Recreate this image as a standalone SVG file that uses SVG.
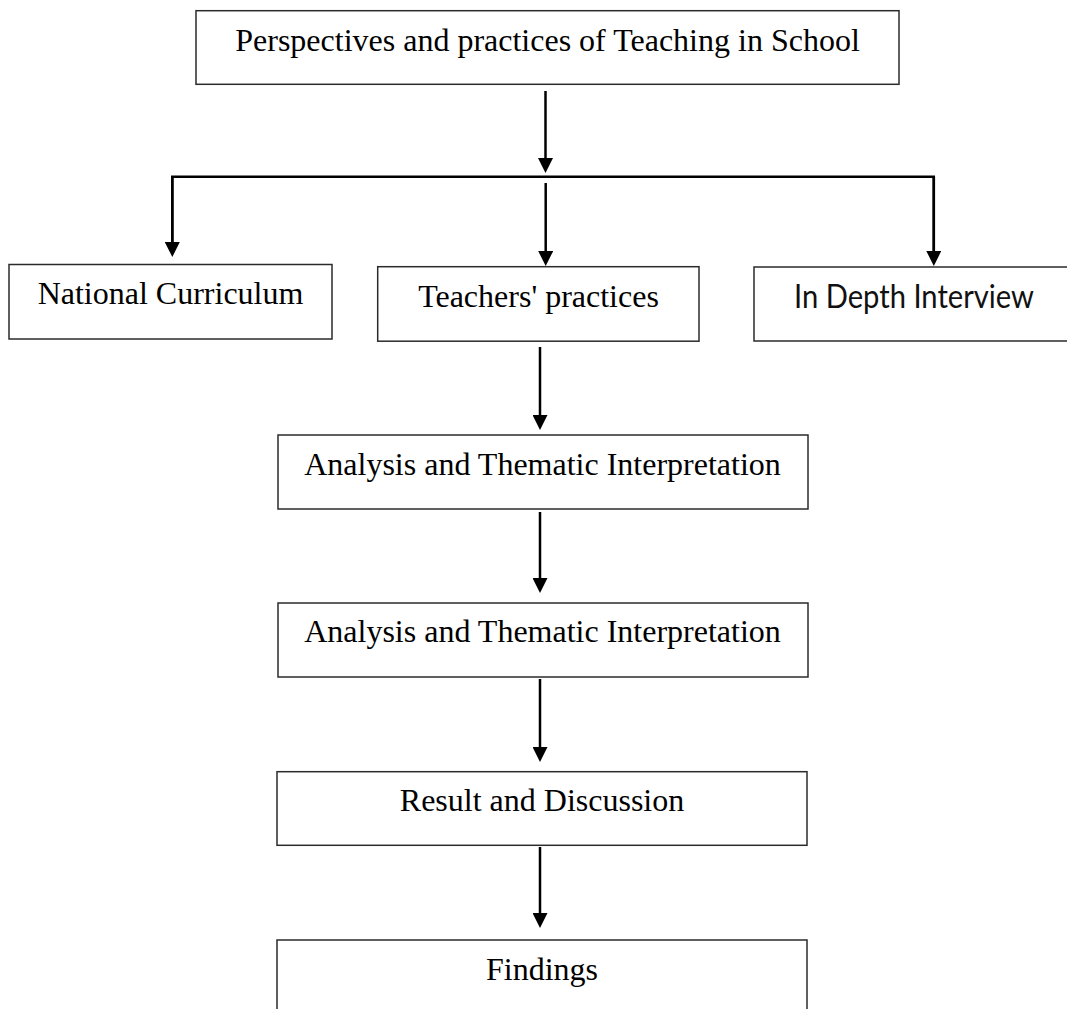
<svg xmlns="http://www.w3.org/2000/svg" width="1067" height="1009" viewBox="0 0 1067 1009">
  <style>
    .box { fill: #ffffff; stroke: #2b2b2b; stroke-width: 1.5; }
    .lbl { font-family: "Liberation Serif", "Times New Roman", serif; font-size: 32px; fill: #000000; text-anchor: middle; }
    .sans { font-family: Lato, "Open Sans", "Liberation Sans", sans-serif; font-size: 32px; fill: #111111; text-anchor: middle; }
    .conn { fill: none; stroke: #000000; stroke-width: 2.5; }
  </style>
  <defs>
    <marker id="arrow" viewBox="0 0 15 15" refX="5" refY="7.5" markerWidth="15" markerHeight="15" markerUnits="userSpaceOnUse" orient="auto">
      <path d="M0,0 L15,7.5 L0,15 z" fill="#000000"/>
    </marker>
  </defs>
  <rect width="1067" height="1009" fill="#ffffff"/>

  <g id="connectors">
    <line class="conn" x1="545.5" y1="91" x2="545.5" y2="163" marker-end="url(#arrow)"/>
    <path class="conn" d="M172.3,247 V176.8 H933.8 V256"/>
    <line class="conn" x1="172.3" y1="176.8" x2="172.3" y2="247" marker-end="url(#arrow)"/>
    <line class="conn" x1="933.8" y1="176.8" x2="933.8" y2="256" marker-end="url(#arrow)"/>
    <line class="conn" x1="545.7" y1="183" x2="545.7" y2="256" marker-end="url(#arrow)"/>
    <line class="conn" x1="540" y1="347" x2="540" y2="420" marker-end="url(#arrow)"/>
    <line class="conn" x1="540" y1="512" x2="540" y2="583" marker-end="url(#arrow)"/>
    <line class="conn" x1="540" y1="679" x2="540" y2="752" marker-end="url(#arrow)"/>
    <line class="conn" x1="540" y1="847" x2="540" y2="918" marker-end="url(#arrow)"/>
  </g>

  <g id="node-top">
    <rect class="box" x="196" y="10.7" width="703" height="73.6"/>
    <text class="lbl" x="547.5" y="51">Perspectives and practices of Teaching in School</text>
  </g>
  <g id="node-national">
    <rect class="box" x="9" y="264.5" width="323" height="74.5"/>
    <text class="lbl" x="170.5" y="304">National Curriculum</text>
  </g>
  <g id="node-teachers">
    <rect class="box" x="377.7" y="266.7" width="321.3" height="74.5"/>
    <text class="lbl" x="538.5" y="307">Teachers' practices</text>
  </g>
  <g id="node-interview">
    <path class="box" d="M1070,267 H754 V341 H1070"/>
    <text class="sans" x="914" y="308" textLength="240" lengthAdjust="spacingAndGlyphs">In Depth Interview</text>
  </g>
  <g id="node-analysis1">
    <rect class="box" x="278" y="435" width="530" height="74"/>
    <text class="lbl" x="542.5" y="475">Analysis and Thematic Interpretation</text>
  </g>
  <g id="node-analysis2">
    <rect class="box" x="278" y="603" width="530" height="74"/>
    <text class="lbl" x="542.5" y="642">Analysis and Thematic Interpretation</text>
  </g>
  <g id="node-result">
    <rect class="box" x="277" y="771.7" width="530" height="73.6"/>
    <text class="lbl" x="542" y="811">Result and Discussion</text>
  </g>
  <g id="node-findings">
    <rect class="box" x="277" y="940" width="530" height="90"/>
    <text class="lbl" x="542" y="980">Findings</text>
  </g>
</svg>
